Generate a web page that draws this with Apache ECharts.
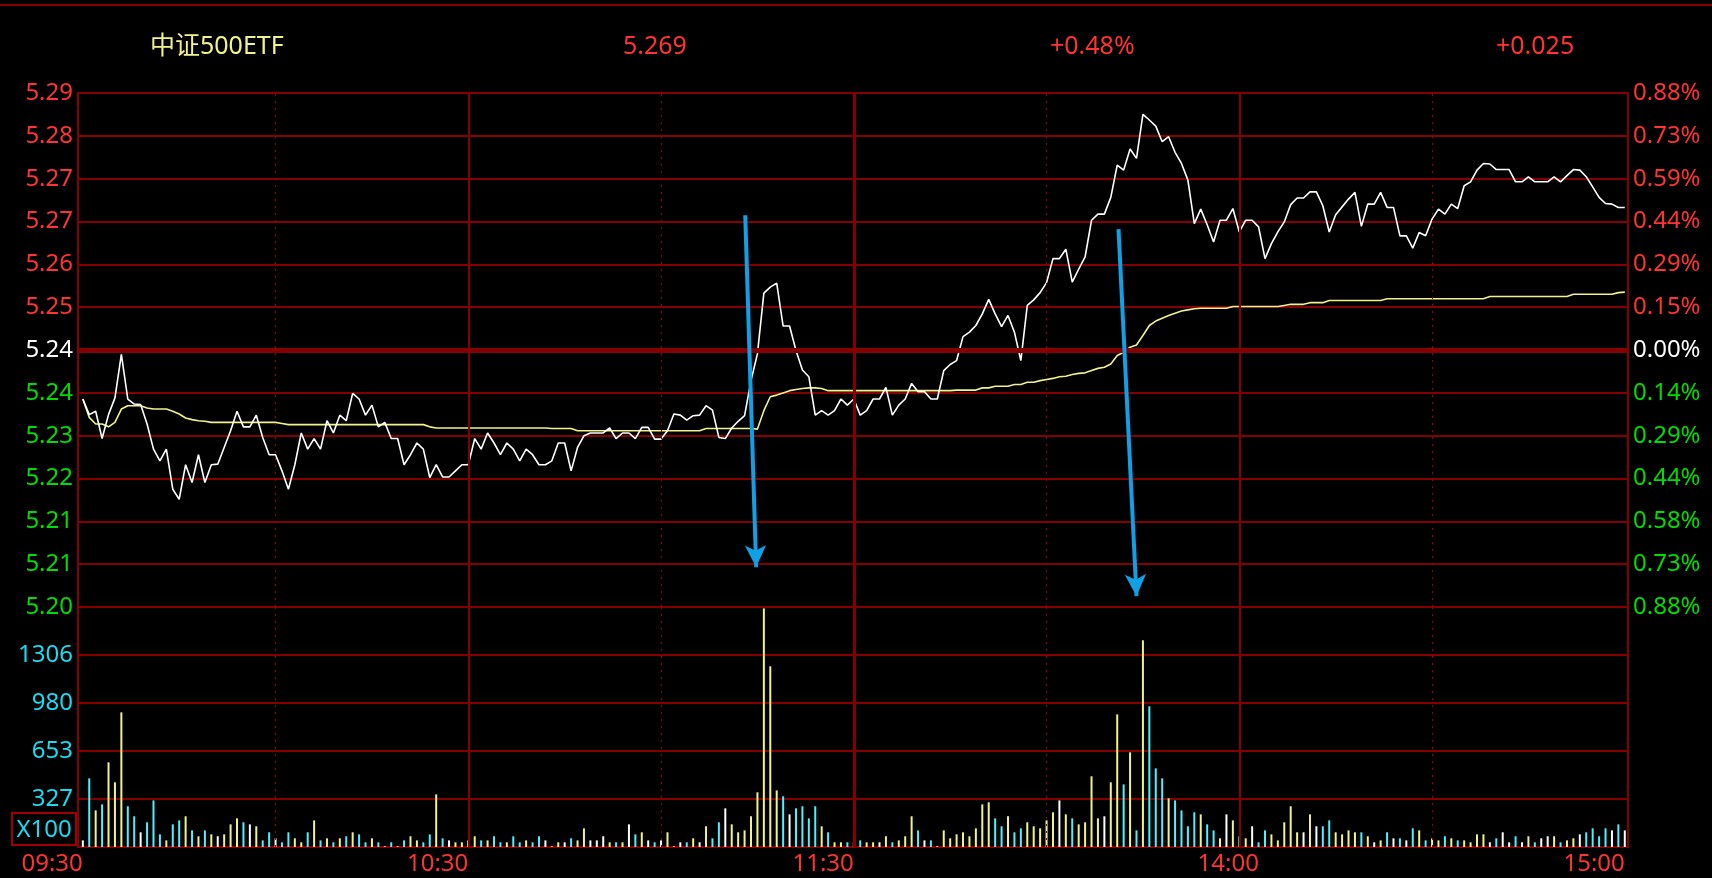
<!DOCTYPE html>
<html>
<head>
<meta charset="utf-8">
<script src="https://cdn.jsdelivr.net/npm/echarts@6/dist/echarts.min.js"></script>
<style>
html,body{margin:0;padding:0;background:#000;}
#c{width:1712px;height:878px;}
</style>
</head>
<body>
<div id="c"></div>
<script>
// ---------------- data ----------------
const stockName = '中证500ETF';
const lastPrice = '5.269';
const changePct = '+0.48%';
const changeAbs = '+0.025';
const basePrice = 5.244;     // previous close
const pctTop = 0.88;         // axis half-range in %

const timeTicks = [0, 60, 120, 180, 240];
const timeLabels = ['09:30', '10:30', '11:30', '14:00', '15:00'];

const leftLabels = ['5.20','5.21','5.21','5.22','5.23','5.24','5.24','5.25','5.26','5.27','5.27','5.28','5.29'];
const rightLabels = ['0.88%','0.73%','0.58%','0.44%','0.29%','0.14%','0.00%','0.15%','0.29%','0.44%','0.59%','0.73%','0.88%'];
const volLabels = ['', '327', '653', '980', '1306', ''];
const volMax = 1632.5;
const volUnit = 'X100';

const price = [
5.2352,5.2324,5.2330,5.2281,5.2324,5.2354,5.2432,5.2352,5.2343,5.2342,
5.2307,5.2262,5.2241,5.2262,5.2190,5.2172,5.2234,5.2202,5.2252,5.2202,
5.2234,5.2235,5.2265,5.2295,5.2330,5.2302,5.2302,5.2323,5.2283,5.2252,
5.2252,5.2223,5.2190,5.2234,5.2291,5.2262,5.2281,5.2262,5.2313,5.2291,
5.2323,5.2313,5.2362,5.2352,5.2323,5.2341,5.2302,5.2310,5.2281,5.2281,
5.2234,5.2252,5.2273,5.2262,5.2211,5.2234,5.2212,5.2212,5.2223,5.2234,
5.2234,5.2281,5.2262,5.2291,5.2273,5.2252,5.2273,5.2262,5.2241,5.2262,
5.2252,5.2234,5.2234,5.2241,5.2273,5.2273,5.2223,5.2265,5.2286,5.2291,
5.2291,5.2291,5.2300,5.2281,5.2291,5.2291,5.2281,5.2301,5.2301,5.2280,
5.2280,5.2295,5.2325,5.2323,5.2314,5.2322,5.2323,5.2340,5.2332,5.2283,
5.2281,5.2300,5.2312,5.2322,5.2385,5.2433,5.2542,5.2553,5.2560,5.2483,
5.2483,5.2439,5.2404,5.2392,5.2323,5.2331,5.2323,5.2331,5.2352,5.2341,
5.2352,5.2323,5.2331,5.2352,5.2352,5.2373,5.2323,5.2341,5.2352,5.2380,
5.2365,5.2365,5.2352,5.2352,5.2403,5.2414,5.2421,5.2464,5.2472,5.2484,
5.2505,5.2531,5.2505,5.2482,5.2502,5.2472,5.2421,5.2520,5.2530,5.2543,
5.2561,5.2604,5.2604,5.2621,5.2562,5.2585,5.2607,5.2673,5.2684,5.2684,
5.2714,5.2772,5.2763,5.2801,5.2784,5.2863,5.2853,5.2842,5.2814,5.2823,
5.2795,5.2775,5.2745,5.2667,5.2693,5.2665,5.2634,5.2673,5.2673,5.2694,
5.2652,5.2673,5.2673,5.2661,5.2604,5.2631,5.2652,5.2670,5.2701,5.2713,
5.2713,5.2724,5.2724,5.2699,5.2652,5.2683,5.2697,5.2711,5.2723,5.2662,
5.2702,5.2702,5.2723,5.2696,5.2696,5.2645,5.2645,5.2623,5.2651,5.2645,
5.2675,5.2693,5.2684,5.2702,5.2694,5.2735,5.2742,5.2763,5.2775,5.2774,
5.2764,5.2764,5.2764,5.2742,5.2742,5.2751,5.2742,5.2742,5.2742,5.2751,
5.2742,5.2753,5.2764,5.2763,5.2751,5.2733,5.2714,5.2703,5.2702,5.2696,
5.2696
];

const avgPrice = [
5.2352,5.2319,5.2307,5.2307,5.2302,5.2310,5.2334,5.2340,5.2340,5.2340,
5.2336,5.2334,5.2334,5.2334,5.2330,5.2325,5.2318,5.2315,5.2313,5.2312,
5.2310,5.2310,5.2310,5.2310,5.2310,5.2310,5.2310,5.2310,5.2310,5.2310,
5.2310,5.2308,5.2306,5.2306,5.2306,5.2306,5.2306,5.2306,5.2306,5.2306,
5.2306,5.2306,5.2306,5.2306,5.2306,5.2306,5.2306,5.2306,5.2306,5.2306,
5.2306,5.2306,5.2306,5.2306,5.2302,5.2300,5.2300,5.2300,5.2300,5.2300,
5.2300,5.2300,5.2300,5.2300,5.2300,5.2300,5.2300,5.2300,5.2300,5.2300,
5.2300,5.2300,5.2300,5.2299,5.2299,5.2299,5.2299,5.2295,5.2295,5.2295,
5.2295,5.2295,5.2295,5.2295,5.2295,5.2295,5.2295,5.2295,5.2295,5.2295,
5.2295,5.2295,5.2295,5.2295,5.2295,5.2295,5.2295,5.2299,5.2299,5.2299,
5.2299,5.2299,5.2299,5.2299,5.2299,5.2298,5.2331,5.2356,5.2359,5.2363,
5.2367,5.2369,5.2371,5.2372,5.2372,5.2371,5.2367,5.2367,5.2367,5.2367,
5.2367,5.2367,5.2367,5.2367,5.2367,5.2367,5.2367,5.2367,5.2367,5.2367,
5.2367,5.2367,5.2367,5.2367,5.2367,5.2367,5.2368,5.2368,5.2368,5.2368,
5.2372,5.2372,5.2375,5.2375,5.2375,5.2378,5.2378,5.2382,5.2382,5.2385,
5.2387,5.2389,5.2392,5.2393,5.2396,5.2398,5.2399,5.2403,5.2407,5.2409,
5.2415,5.2430,5.2436,5.2445,5.2449,5.2466,5.2484,5.2492,5.2497,5.2502,
5.2506,5.2510,5.2512,5.2514,5.2515,5.2515,5.2515,5.2515,5.2515,5.2518,
5.2518,5.2518,5.2518,5.2518,5.2518,5.2518,5.2518,5.2520,5.2522,5.2522,
5.2522,5.2525,5.2525,5.2525,5.2529,5.2529,5.2529,5.2529,5.2529,5.2529,
5.2529,5.2529,5.2529,5.2532,5.2532,5.2532,5.2532,5.2532,5.2532,5.2532,
5.2532,5.2532,5.2532,5.2532,5.2532,5.2532,5.2532,5.2532,5.2532,5.2536,
5.2536,5.2536,5.2536,5.2536,5.2536,5.2536,5.2536,5.2536,5.2536,5.2536,
5.2536,5.2536,5.2540,5.2540,5.2540,5.2540,5.2540,5.2540,5.2540,5.2543,
5.2544
];

const volume = [
45,467,249,290,576,440,916,277,209,100,
168,317,86,45,154,181,209,113,73,113,
86,73,86,154,195,168,154,141,45,100,
59,32,100,59,32,100,181,45,59,32,
59,73,100,86,32,59,32,5,32,5,
45,73,45,32,86,358,59,45,32,32,
45,73,45,45,73,32,32,73,32,45,
32,73,45,5,32,32,59,45,127,45,
45,73,32,32,32,154,86,100,45,32,
45,100,5,32,32,59,32,141,59,168,
263,154,100,113,209,372,1623,1229,385,345,
222,263,277,195,277,141,100,32,32,32,
32,45,32,32,32,73,32,45,73,209,
113,45,45,5,113,59,86,100,73,127,
290,304,195,141,209,100,127,168,141,127,
181,236,317,222,195,154,168,481,195,209,
440,902,426,644,113,1406,957,535,467,331,
317,249,141,236,222,154,113,59,222,181,
73,59,141,32,113,86,45,168,277,100,
100,222,141,141,181,100,86,113,100,100,
73,32,45,100,59,59,45,127,113,45,
59,45,73,59,45,45,32,86,86,32,
59,100,32,73,32,73,32,59,73,73,
32,45,59,86,100,127,73,127,113,154,
113
];

// 1 = up (yellow), -1 = down (cyan), 0 = flat (white)
const volDir = [
0,-1,1,-1,1,1,1,-1,-1,0,
-1,-1,-1,1,-1,-1,1,-1,1,-1,
1,0,1,1,1,-1,0,1,-1,-1,
0,-1,-1,1,1,-1,1,-1,1,-1,
1,-1,1,-1,-1,1,-1,0,-1,0,
-1,1,1,-1,-1,1,-1,0,1,1,
0,1,-1,1,-1,-1,1,-1,-1,1,
-1,-1,0,1,1,0,-1,1,1,0,
0,0,1,-1,1,0,-1,1,0,-1,
0,1,1,0,-1,1,0,1,-1,-1,
0,1,1,1,1,1,1,1,1,-1,
0,-1,-1,-1,-1,1,-1,1,1,-1,
1,-1,1,1,0,1,-1,1,1,1,
-1,0,-1,0,1,1,1,1,1,1,
1,1,-1,-1,1,-1,-1,1,1,1,
1,1,0,1,-1,1,1,1,1,0,
1,1,-1,1,-1,1,-1,-1,-1,1,
-1,-1,-1,-1,1,-1,-1,1,0,1,
-1,1,0,-1,-1,1,1,1,1,1,
0,1,0,-1,-1,1,1,1,1,-1,
1,0,1,-1,0,-1,0,-1,1,-1,
1,1,-1,1,-1,1,1,1,1,0,
-1,0,0,-1,0,1,-1,0,0,1,
-1,1,1,0,-1,-1,-1,-1,0,-1,
0
];

// annotation arrows: [startIndex, startPrice, endIndex, endPrice]
const arrows = [
  [103.1, 5.2682, 104.8, 5.2050],
  [161.2, 5.2657, 164.0, 5.1998]
];

// ---------------- chart ----------------
const RED = '#FF3333', GREEN = '#00DD00', CYAN = '#1ADCF0', GRID = '#850000';
const YEL = '#F2F28A';
const FONT = '"Noto Sans", "Noto Sans CJK SC", sans-serif';
const stepPct = pctTop / 6;
const toStep = p => (p / basePrice - 1) * 100 / stepPct;
const labColor = (idx) => idx > 6 ? RED : (idx < 6 ? GREEN : '#FFFFFF');
const dirColor = {'1': YEL, '-1': '#50F0FF', '0': '#FFFFFF'};

const chart = echarts.init(document.getElementById('c'), null, {renderer: 'canvas'});

const xBase = {type: 'value', min: -0.75, max: 240.5, position: 'bottom', axisLine: {show: false}, axisTick: {show: false}, splitLine: {show: false}};

function vLines() {
  const d = [];
  [30, 90, 150, 210].forEach(v => d.push({xAxis: v, lineStyle: {type: [2, 5], width: 1, color: '#A00000'}}));
  [60, 180].forEach(v => d.push({xAxis: v, lineStyle: {type: 'solid', width: 2, color: GRID}}));
  d.push({xAxis: 120, lineStyle: {type: 'solid', width: 3, color: GRID}});
  return d;
}

const titleStyle = (c) => ({color: c, fontSize: 25, fontWeight: 'normal', fontFamily: FONT});

const option = {
  backgroundColor: '#000',
  animation: false,
  textStyle: {fontFamily: FONT},
  title: [
    {text: stockName, left: 150, top: 34, padding: 0, textStyle: titleStyle(YEL)},
    {text: lastPrice, left: 623, top: 34, padding: 0, textStyle: titleStyle(RED)},
    {text: changePct, left: 1050, top: 34, padding: 0, textStyle: titleStyle(RED)},
    {text: changeAbs, left: 1496, top: 34, padding: 0, textStyle: titleStyle(RED)}
  ],
  grid: [
    {left: 78, right: 84, top: 93, height: 514, show: true, borderColor: GRID, borderWidth: 2, backgroundColor: 'transparent'},
    {left: 78, right: 84, top: 607, height: 240, show: true, borderColor: GRID, borderWidth: 2, backgroundColor: 'transparent'}
  ],
  xAxis: [
    Object.assign({}, xBase, {gridIndex: 0, axisLabel: {show: false}}),
    Object.assign({}, xBase, {gridIndex: 1, axisLabel: {show: true, customValues: [timeTicks[0], timeTicks[1], timeTicks[2], timeTicks[4]],
      formatter: v => timeLabels[timeTicks.indexOf(Math.round(v))], align: 'right', color: RED, fontSize: 24, margin: 5, fontFamily: FONT}}),
    Object.assign({}, xBase, {gridIndex: 1, axisLabel: {show: true, customValues: [timeTicks[3]],
      formatter: v => timeLabels[timeTicks.indexOf(Math.round(v))], align: 'center', padding: [0, 22, 0, 0], color: RED, fontSize: 24, margin: 5, fontFamily: FONT}})
  ],
  yAxis: [
    {type: 'value', gridIndex: 0, position: 'left', min: -6, max: 6, interval: 1,
      axisLine: {show: false}, axisTick: {show: false},
      splitLine: {show: true, lineStyle: {color: GRID, width: 2}},
      axisLabel: {fontSize: 24, margin: 5, fontFamily: FONT,
        formatter: v => leftLabels[Math.round(v) + 6],
        color: v => labColor(Math.round(v) + 6)}},
    {type: 'value', gridIndex: 0, position: 'right', min: -6, max: 6, interval: 1,
      axisLine: {show: false}, axisTick: {show: false}, splitLine: {show: false},
      axisLabel: {fontSize: 24, margin: 5, fontFamily: FONT,
        formatter: v => rightLabels[Math.round(v) + 6],
        color: v => labColor(Math.round(v) + 6)}},
    {type: 'value', gridIndex: 1, position: 'left', min: 0, max: volMax, interval: volMax / 5,
      axisLine: {show: false}, axisTick: {show: false},
      splitLine: {show: true, lineStyle: {color: GRID, width: 2}},
      axisLabel: {fontSize: 24, margin: 5, color: CYAN, fontFamily: FONT,
        formatter: v => volLabels[Math.round(v / (volMax / 5))] || ''}}
  ],
  graphic: [
    {type: 'rect', shape: {x: 0, y: 4, width: 1712, height: 2}, style: {fill: GRID}, silent: true},
    {type: 'rect', shape: {x: 12, y: 813, width: 64, height: 32}, style: {fill: 'transparent', stroke: '#A00000', lineWidth: 2}, silent: true, z: 10},
    {type: 'text', x: 44, y: 830, style: {text: volUnit, fill: CYAN, font: '24px ' + FONT, align: 'center', verticalAlign: 'middle'}, silent: true, z: 10}
  ],
  series: [
    {
      name: 'avg', type: 'line', xAxisIndex: 0, yAxisIndex: 0, z: 2,
      data: avgPrice.map((p, i) => [i, toStep(p)]),
      showSymbol: false, symbol: 'none', silent: true,
      lineStyle: {color: YEL, width: 1.6},
      markLine: {silent: true, symbol: 'none', label: {show: false},
        data: vLines().concat([{yAxis: 0, lineStyle: {type: 'solid', width: 5, color: GRID}}])}
    },
    {
      name: 'price', type: 'line', xAxisIndex: 0, yAxisIndex: 0, z: 3,
      data: price.map((p, i) => [i, toStep(p)]),
      showSymbol: false, symbol: 'none', silent: true,
      lineStyle: {color: '#FFFFFF', width: 1.6}
    },
    {
      name: 'arrows', type: 'line', xAxisIndex: 0, yAxisIndex: 0, z: 10,
      data: [], silent: true,
      markLine: {silent: true, symbol: ['none', 'arrow'], symbolSize: [16, 22], label: {show: false},
        lineStyle: {color: '#0FA0E6', width: 4, type: 'solid'},
        data: arrows.map(a => [{coord: [a[0], toStep(a[1])]}, {coord: [a[2], toStep(a[3])]}])}
    },
    {
      name: 'vol', type: 'bar', xAxisIndex: 1, yAxisIndex: 2, z: 3,
      barWidth: 2, silent: true,
      data: volume.map((v, i) => ({value: [i, v], itemStyle: {color: dirColor[String(volDir[i])]}})),
      markLine: {silent: true, symbol: 'none', label: {show: false}, data: vLines()}
    }
  ]
};
chart.setOption(option);
</script>
</body>
</html>
